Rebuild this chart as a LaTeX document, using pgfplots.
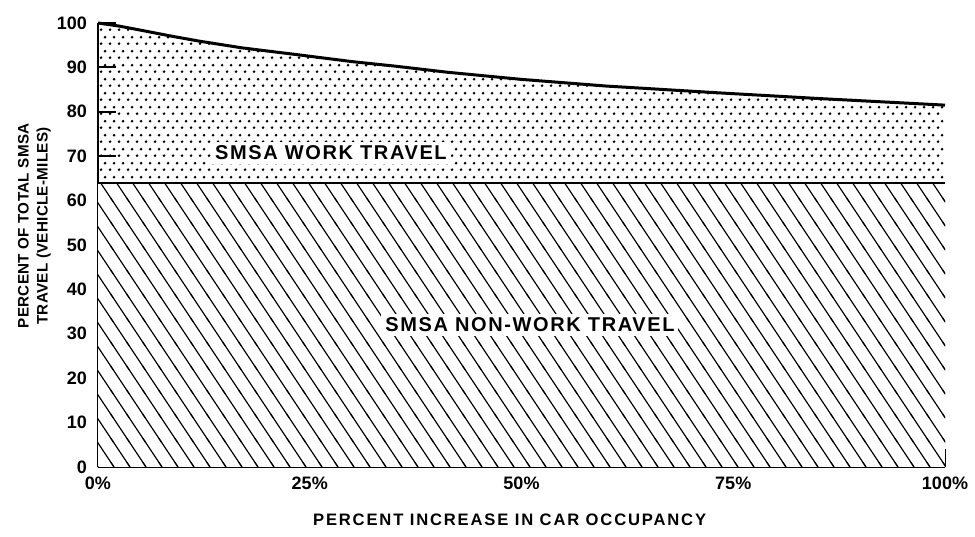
\documentclass[border=0pt]{standalone}
\usepackage{fontspec}
\setmainfont{Liberation Sans}
\newfontfamily\labfont[LetterSpace=2]{Liberation Sans}
\newfontfamily\xlabfont[LetterSpace=11]{Liberation Sans}
\newfontfamily\regfont[LetterSpace=8]{Liberation Sans}
\usepackage{pgfplots}
\pgfplotsset{compat=1.18}
\usetikzlibrary{patterns}

% staggered dot screen for the work-travel band
\pgfdeclarepatternformonly{smsadots}{\pgfpointorigin}{\pgfpoint{4.5pt}{7pt}}{\pgfpoint{4.5pt}{7pt}}{%
  \pgfpathcircle{\pgfpoint{1.125pt}{1.75pt}}{0.8pt}%
  \pgfpathcircle{\pgfpoint{3.375pt}{5.25pt}}{0.8pt}%
  \pgfusepath{fill}}
% steep back-slash hatching for the non-work band
\pgfdeclarepatternformonly{smsahatch}{\pgfpoint{-1pt}{-1pt}}{\pgfpoint{9pt}{13pt}}{\pgfpoint{8pt}{12pt}}{%
  \pgfsetlinewidth{0.6pt}%
  \pgfpathmoveto{\pgfpoint{-1pt}{13.5pt}}\pgfpathlineto{\pgfpoint{9pt}{-1.5pt}}%
  \pgfusepath{stroke}}

\pgfplotstableread{
x    y
0    100
2.5  99.3
5    98.4
8.5  97.1
12   95.9
17   94.4
23.8 92.8
30   91.3
35   90.3
41.3 88.9
50   87.3
60   85.8
73   84.3
85   83.0
93   82.2
100  81.5
}\worktop

\begin{document}
\begin{tikzpicture}
\begin{axis}[
    scale only axis,
    width=423.5pt, height=222pt,
    xmin=0, xmax=100, ymin=0, ymax=100,
    axis lines*=left,
    axis line style={line width=1pt},
    xtick={0,25,50,75,100},
    xticklabels={0\%,25\%,50\%,75\%,100\%},
    ytick={0,10,...,100},
    tick align=inside,
    major tick length=9pt,
    tick style={line width=1pt, black},
    /pgf/number format/assume math mode=true,
    tick label style={font=\fontsize{9}{10}\selectfont\bfseries},
    xticklabel style={yshift=-1.5pt},
    yticklabel style={xshift=-2pt},
    xlabel={\xlabfont\bfseries PERCENT INCREASE IN CAR OCCUPANCY},
    xlabel style={font=\fontsize{8.3}{10}\selectfont, at={(axis description cs:0.486,0)}, anchor=center, yshift=-26.5pt},
    ylabel={\labfont\bfseries PERCENT OF TOTAL SMSA\\ \labfont\bfseries TRAVEL (VEHICLE-MILES)},
    ylabel style={font=\fontsize{7.6}{9.5}\selectfont, align=center, at={(axis description cs:-0.075,0.543)}, anchor=center},
    clip=false,
]
\addplot[pattern=smsadots, draw=none] table[x=x, y=y] {\worktop} \closedcycle;
\addplot[fill=white, draw=none] coordinates {(0,64) (100,64)} \closedcycle;
\addplot[pattern=smsahatch, draw=none] coordinates {(0,64) (100,64)} \closedcycle;
\addplot[line width=1.5pt, black] table[x=x, y=y] {\worktop};
\addplot[line width=0.9pt, black] coordinates {(0,64) (100,64)};
\node[fill=white, inner sep=2pt, font=\fontsize{10}{12}\selectfont\regfont\bfseries] at (axis cs:27.5,70.7) {SMSA WORK TRAVEL};
\node[fill=white, inner sep=2pt, font=\fontsize{10}{12}\selectfont\regfont\bfseries] at (axis cs:51,32) {SMSA NON-WORK TRAVEL};
\coordinate (sw) at (rel axis cs:0,0);
\end{axis}
\pgfresetboundingbox
\path[use as bounding box] ([shift={(-49pt,-34.5pt)}]sw) rectangle ([shift={(438.5pt,233.5pt)}]sw);
\end{tikzpicture}
\end{document}
